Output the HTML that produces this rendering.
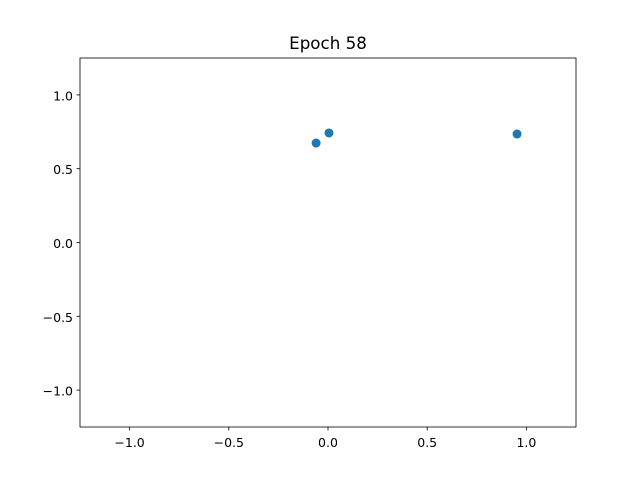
<!DOCTYPE html>
<html><head><meta charset="utf-8"><style>body{margin:0;background:#fff}svg{display:block;font-family:"DejaVu Sans","Liberation Sans",sans-serif}</style></head>
<body>
<svg id="chart" width="640" height="480">
<rect x="0" y="0" width="640" height="480" fill="#fff"/>
<text x="328" y="49" text-anchor="middle" font-size="16.7">Epoch 58</text>
<g id="axes"></g>
<g id="points"></g>
<rect x="80" y="58" width="496" height="369" fill="none" stroke="#000" stroke-width="0.8"/>
</svg>
<script>
const xs = [-0.06, 0.005, 0.953];
const ys = [0.674, 0.742, 0.735];
const xTicks = [-1.0, -0.5, 0.0, 0.5, 1.0];
const yTicks = [-1.0, -0.5, 0.0, 0.5, 1.0];
const tickLabels = ["\u22121.0", "\u22120.5", "0.0", "0.5", "1.0"];
const L=80,R=576,T=58,B=427,lo=-1.25,hi=1.25;
function sx(v){return L+(v-lo)/(hi-lo)*(R-L);}
function sy(v){return B-(v-lo)/(hi-lo)*(B-T);}
const NS="http://www.w3.org/2000/svg";
const ax=document.getElementById('axes'), pts=document.getElementById('points');
function mk(tag,attrs,parent,txt){const e=document.createElementNS(NS,tag);for(const k in attrs)e.setAttribute(k,attrs[k]);if(txt!==undefined)e.textContent=txt;parent.appendChild(e);return e;}
xTicks.forEach((v,i)=>{
  const x=sx(v);
  const t=mk('line',{x1:x,x2:x,y1:B,y2:B+3.5,stroke:'#000','stroke-width':0.8},ax);
  
  
  const l=mk('text',{x:x,y:B+20,'text-anchor':'middle','font-size':12.5},ax,tickLabels[i]);
  
  
});
yTicks.forEach((v,i)=>{
  const y=sy(v);
  const t=mk('line',{x1:L-3.5,x2:L,y1:y,y2:y,stroke:'#000','stroke-width':0.8},ax);
  
  
  const l=mk('text',{x:L-7,y:y+5.5,'text-anchor':'end','font-size':12.5},ax,tickLabels[i]);
  
  
});
xs.forEach((v,i)=>{
  const c=mk('circle',{cx:sx(v),cy:sy(ys[i]),r:4.5,fill:'#1f77b4'},pts);
  
  
});
</script>
</body></html>
